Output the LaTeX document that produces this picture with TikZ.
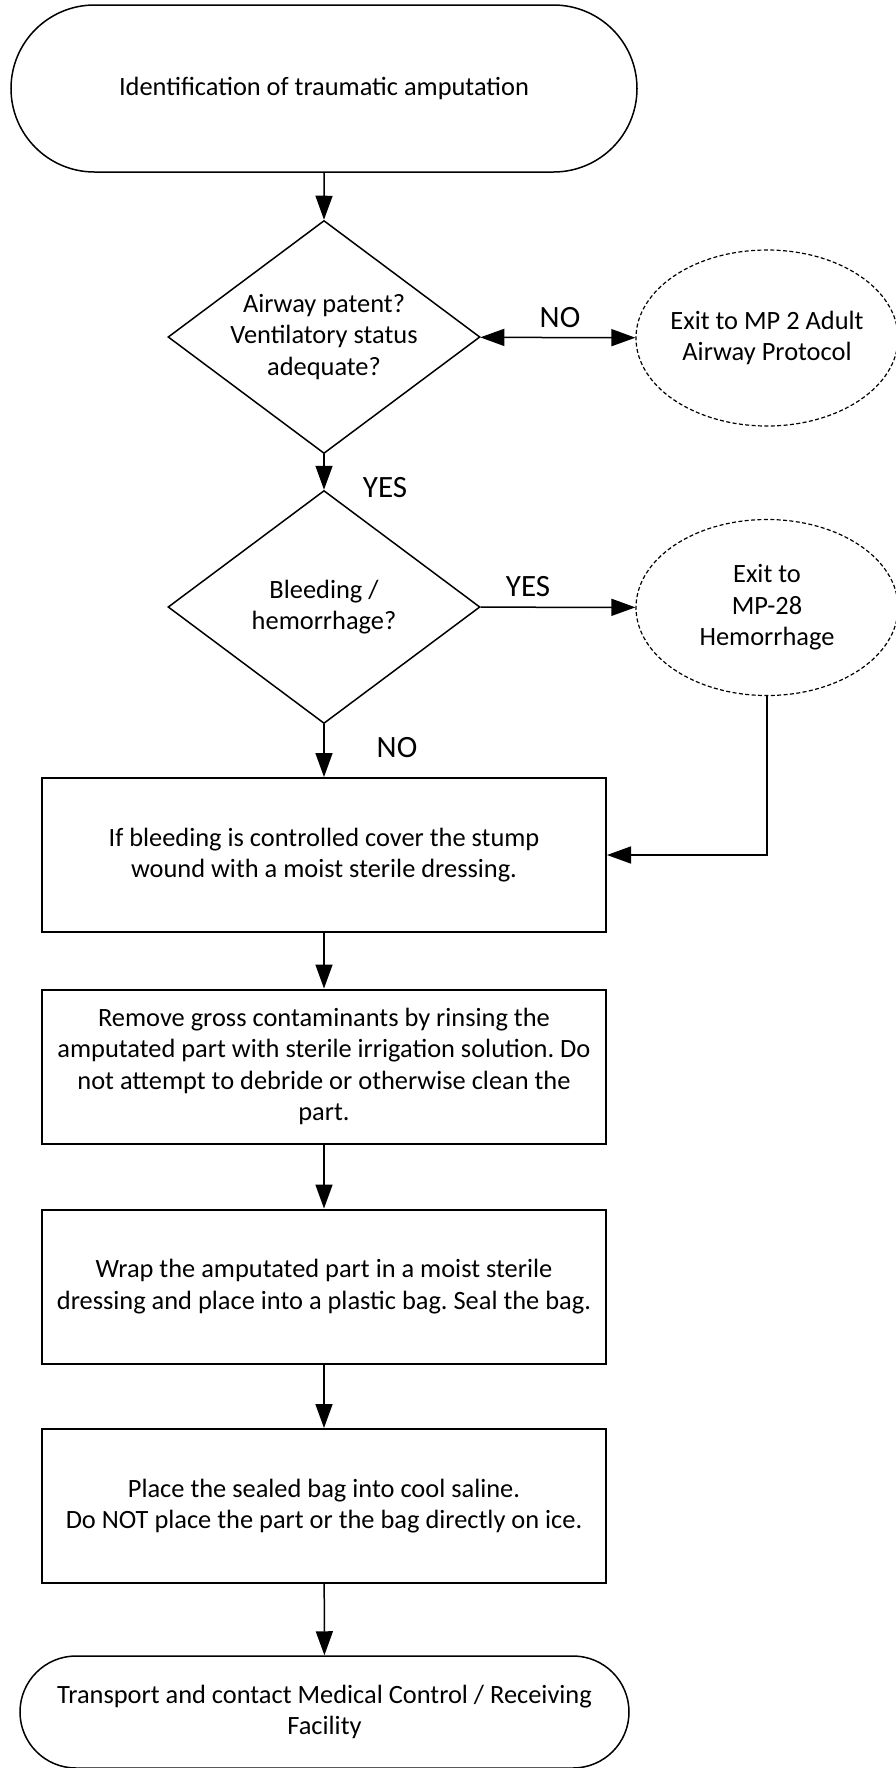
\documentclass[tikz,border=0pt]{standalone}
\usepackage{fontspec}
\setmainfont{Carlito}
\usetikzlibrary{shapes.geometric,shapes.misc,arrows.meta,positioning}
\newcommand{\boxfont}{\fontsize{13.2pt}{15.8pt}\selectfont}
\newcommand{\lblfont}{\fontsize{15.5pt}{18pt}\selectfont}
\frenchspacing

\begin{document}
\begin{tikzpicture}[x=0.5pt, y=-0.5pt,
    term/.style={rounded rectangle, draw, line width=0.75pt,
               minimum width=313pt, minimum height=83.5pt, font=\boxfont, align=center, inner sep=0pt},
    decide/.style={diamond, draw, line width=0.75pt, shape aspect=1.34, minimum width=156pt,
               minimum height=116.5pt, font=\boxfont, align=center, inner sep=-1pt},
    exitnode/.style={ellipse, draw, line width=0.6pt, dash pattern=on 2pt off 1.2pt,
               minimum width=131pt, minimum height=88pt, font=\boxfont, align=center, inner sep=-3pt},
    action/.style={rectangle, draw, line width=1pt, minimum width=282pt, minimum height=77pt,
               font=\boxfont, align=center, inner sep=0pt},
    lbl/.style={font=\lblfont, inner sep=0pt},
    arr/.style={-{Triangle[length=12pt, width=8.5pt]}, line width=0.75pt},
    darr/.style={{Triangle[length=12pt, width=8.5pt]}-{Triangle[length=12pt, width=8.5pt]}, line width=0.75pt}
]
    \useasboundingbox (0,0) rectangle (895,1768);

    \node[term]     (start) at (324,88.5) {Identification of traumatic amputation};
    \node[decide]   (airway) at (324,337) {Airway patent?\\Ventilatory status\\adequate?};
    \node[exitnode] (exitair) at (767,338) {Exit to MP 2 Adult\\Airway Protocol};
    \node[decide]   (bleed) at (324,607) {Bleeding /\\hemorrhage?};
    \node[exitnode] (exitbleed) at (767,607.5) {Exit to\\MP-28\\Hemorrhage};

    \node[action] (cover) at (324,855) {If bleeding is controlled cover the stump\\wound with a moist sterile dressing.};
    \node[action] (rinse) at (324,1066.5) {Remove gross contaminants by rinsing the\\amputated part with sterile irrigation solution. Do\\not attempt to debride or otherwise clean the\\part.};
    \node[action] (wrap) at (324,1286.5) {Wrap the amputated part in a moist sterile\\dressing and place into a plastic bag. Seal the bag.};
    \node[action] (saline) at (324,1506) {Place the sealed bag into cool saline.\\Do NOT place the part or the bag directly on ice.};
    \node[term, minimum width=304.5pt, minimum height=56pt]
        (stop) at (324.5,1712) {Transport and contact Medical Control / Receiving\\Facility};

    % answers
    \node[lbl] (noair)   at (560,318) {NO};
    \node[lbl] (yesair)  at (385,488) {YES};
    \node[lbl] (yesbl)   at (528,587) {YES};
    \node[lbl] (nobl)    at (397,748) {NO};

    \draw[arr]  (start) -- (airway);
    \draw[darr] (airway) -- (exitair);
    \draw[arr]  (airway) -- (bleed);
    \draw[arr]  (bleed) -- (exitbleed);
    \draw[arr]  (bleed) -- (cover);
    \draw[arr]  (exitbleed.south) |- (cover.east);
    \draw[arr]  (cover) -- (rinse);
    \draw[arr]  (rinse) -- (wrap);
    \draw[arr]  (wrap) -- (saline);
    \draw[arr]  (saline) -- (stop);
\end{tikzpicture}
\end{document}
